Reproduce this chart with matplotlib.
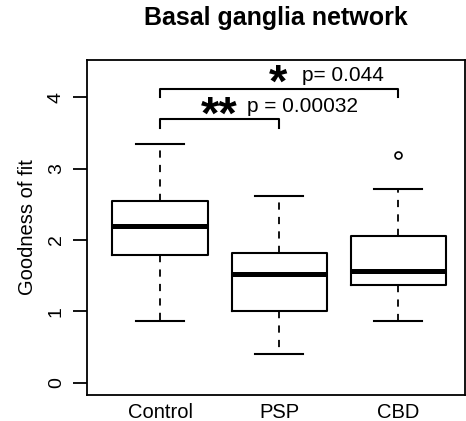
import matplotlib
matplotlib.use("Agg")
import matplotlib.pyplot as plt

plt.rcParams['font.family'] = ['Liberation Sans', 'DejaVu Sans']

groups = ["Control", "PSP", "CBD"]
whislo = [0.86, 0.40, 0.86]
q1 = [1.785, 1.01, 1.37]
med = [2.19, 1.525, 1.565]
q3 = [2.545, 1.82, 2.05]
whishi = [3.34, 2.62, 2.72]
fliers = [[], [], [3.19]]

# significance brackets: (left group, right group, height, star text, p text)
brackets = [
    (1, 2, 3.69, "**", "p = 0.00032"),
    (1, 3, 4.12, "*", "p= 0.044"),
]

stats = []
for i, g in enumerate(groups):
    stats.append(dict(label=g, whislo=whislo[i], q1=q1[i], med=med[i],
                      q3=q3[i], whishi=whishi[i], fliers=fliers[i]))

fig = plt.figure(figsize=(4.66, 4.21), dpi=100)
ax = fig.add_axes([87 / 466, 1 - 395 / 421, 378 / 466, 335 / 421])

ax.bxp(stats, positions=[1, 2, 3], widths=0.8, capwidths=0.4,
       boxprops=dict(color='black', linewidth=1.5),
       medianprops=dict(color='black', linewidth=3.6, solid_capstyle='butt'),
       whiskerprops=dict(color='black', linewidth=1.3, linestyle=(0, (4, 4))),
       capprops=dict(color='black', linewidth=1.5),
       flierprops=dict(marker='o', markersize=5, markerfacecolor='white',
                       markeredgecolor='black', markeredgewidth=1.2))

ax.set_xlim(0.386, 3.56)
ax.set_ylim(-0.17, 4.52)
ax.set_yticks([0, 1, 2, 3, 4])
ax.set_yticklabels(["0", "1", "2", "3", "4"], rotation=90, va='center')
ax.tick_params(axis='y', length=10, width=1.3, labelsize=14, pad=6)
ax.tick_params(axis='x', length=0, labelsize=14.5, pad=6)
for s in ax.spines.values():
    s.set_linewidth(1.3)

for a, b, h, star, ptxt in brackets:
    ax.plot([a, a, b, b], [h - 0.12, h, h, h - 0.12], color='black', lw=1.5)

ax.text(1.5, 3.56, "**", fontsize=34, fontweight='bold', ha='center', va='baseline')
ax.text(1.73, 3.87, "p = 0.00032", fontsize=15, ha='left', va='center')
ax.text(1.99, 4.0, "*", fontsize=34, fontweight='bold', ha='center', va='baseline')
ax.text(2.19, 4.30, "p= 0.044", fontsize=15, ha='left', va='center')

ax.set_ylabel("Goodness of fit", fontsize=14.5, labelpad=8)
fig.text(276 / 466, 1 - 18 / 421, "Basal ganglia network", fontsize=18,
         fontweight='bold', ha='center', va='center')

fig.savefig("out.png", dpi=100)
